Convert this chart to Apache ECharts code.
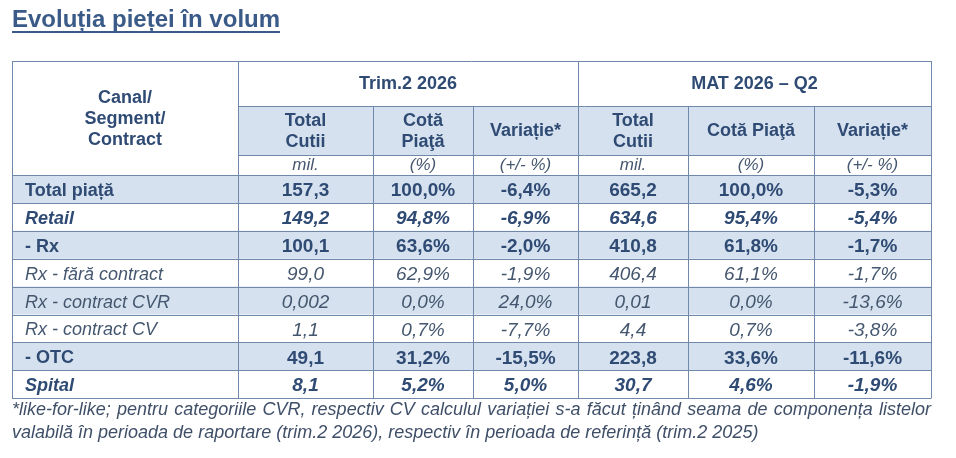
<!DOCTYPE html>
<html>
<head>
<meta charset="utf-8">
<script src="https://cdn.jsdelivr.net/npm/echarts@6/dist/echarts.min.js"></script>
<style>
html, body { margin: 0; padding: 0; background: #fff; }
#chart { width: 956px; height: 458px; }
</style>
</head>
<body>
<div id="chart"></div>
<script>
// date tabel
var title = 'Evoluția pieței în volum';
var periods = ['Trim.2 2026', 'MAT 2026 – Q2'];
var firstHeader = 'Canal/\nSegment/\nContract';
var colHeaders = ['Total\nCutii', 'Cotă\nPiaţă', 'Variație*', 'Total\nCutii', 'Cotă Piaţă', 'Variație*'];
var units = ['mil.', '(%)', '(+/- %)', 'mil.', '(%)', '(+/- %)'];
var rowLabels = ['Total piață', 'Retail', '- Rx', 'Rx - fără contract', 'Rx - contract CVR', 'Rx - contract CV', '- OTC', 'Spital'];
var trimTotal = [157.3, 149.2, 100.1, 99.0, 0.002, 1.1, 49.1, 8.1];
var trimShare = [100.0, 94.8, 63.6, 62.9, 0.0, 0.7, 31.2, 5.2];
var trimVar = [-6.4, -6.9, -2.0, -1.9, 24.0, -7.7, -15.5, 5.0];
var matTotal = [665.2, 634.6, 410.8, 406.4, 0.01, 4.4, 223.8, 30.7];
var matShare = [100.0, 95.4, 61.8, 61.1, 0.0, 0.7, 33.6, 4.6];
var matVar = [-5.3, -5.4, -1.7, -1.7, -13.6, -3.8, -11.6, -1.9];
var footnote = [
    '*like-for-like; pentru categoriile CVR, respectiv CV calculul variației s-a făcut ținând seama de componența listelor',
    'valabilă în perioada de raportare (trim.2 2026), respectiv în perioada de referință (trim.2 2025)'
];

// stil randuri
var rowBold = [true, true, true, false, false, false, true, true];
var rowItalic = [false, true, false, true, true, true, false, true];

// layout
var colX = [12, 238, 373, 473, 578, 688, 814, 931];
var topY = 61, periodY = 106, headY = 155, unitY = 175, rowH = 27.9;
var textDark = '#2f4b74', textLight = '#45576f', shade = '#d5e1ee', border = '#7089ab';
var FAM = '"Liberation Sans", Arial, sans-serif';

function fmtNum(v) {
    var s = Math.abs(v) < 0.1 && v !== 0 ? String(v) : v.toFixed(1);
    return s.replace('.', ',');
}
function fmtPct(v) {
    return v.toFixed(1).replace('.', ',') + '%';
}
function font(size, bold, italic) {
    return (italic ? 'italic ' : '') + (bold ? 'bold ' : '') + size + 'px ' + FAM;
}
function txt(text, x, y, f, color, align, lh) {
    return {
        type: 'text', z: 10,
        style: {
            text: text, x: x, y: y, font: f, fill: color,
            align: align || 'center', verticalAlign: 'middle',
            textAlign: align || 'center', textVerticalAlign: 'middle',
            lineHeight: lh || 21
        }
    };
}
function line(x1, y1, x2, y2) {
    return {
        type: 'line', z: 5,
        shape: { x1: x1, y1: y1, x2: x2, y2: y2 },
        style: { stroke: border, lineWidth: 1 }
    };
}
function rect(x, y, w, h, color) {
    return { type: 'rect', z: 1, shape: { x: x, y: y, width: w, height: h }, style: { fill: color } };
}

var els = [];
var right = colX[colX.length - 1];
var bottomY = unitY + rowH * rowLabels.length;
var measure = document.createElement('canvas').getContext('2d');

// titlu
els.push(txt(title, 12, 20, font(24, true), '#3a5a88', 'left'));
measure.font = font(24, true);
els.push({ type: 'rect', z: 10, shape: { x: 12, y: 31, width: measure.measureText(title).width, height: 2 }, style: { fill: '#3a5a88' } });

// fundaluri
els.push(rect(colX[1], periodY, right - colX[1], headY - periodY, shade));
rowLabels.forEach(function (l, i) {
    if (i % 2 === 0) els.push(rect(colX[0], unitY + i * rowH, right - colX[0], rowH, shade));
});

// antet
els.push(txt(firstHeader, (colX[0] + colX[1]) / 2, 119, font(18, true), textDark, 'center', 21));
els.push(txt(periods[0], (colX[1] + colX[4]) / 2, 84, font(18, true), textDark));
els.push(txt(periods[1], (colX[4] + colX[7]) / 2, 84, font(18, true), textDark));
colHeaders.forEach(function (h, j) {
    var cx = (colX[j + 1] + colX[j + 2]) / 2;
    els.push(txt(h, cx, (periodY + headY) / 2 + 1, font(18, true), textDark, 'center', 21));
    els.push(txt(units[j], cx, (headY + unitY) / 2, font(17, false, true), textLight));
});

// date
var cols = [trimTotal, trimShare, trimVar, matTotal, matShare, matVar];
rowLabels.forEach(function (label, i) {
    var cy = unitY + i * rowH + rowH / 2 + 2;
    var c = rowBold[i] ? textDark : textLight;
    els.push(txt(label, 25, cy, font(18, rowBold[i], rowItalic[i]), c, 'left'));
    cols.forEach(function (arr, j) {
        var s = (j % 3 === 0) ? fmtNum(arr[i]) : fmtPct(arr[i]);
        els.push(txt(s, (colX[j + 1] + colX[j + 2]) / 2, cy, font(19, rowBold[i], rowItalic[i]), c));
    });
});

// linii
els.push(line(colX[0], topY + 0.5, right, topY + 0.5));
els.push(line(colX[1], periodY + 0.5, right, periodY + 0.5));
els.push(line(colX[1], headY + 0.5, right, headY + 0.5));
els.push(line(colX[0], unitY + 0.5, right, unitY + 0.5));
for (var r = 1; r <= rowLabels.length; r++) {
    var yy = Math.round(unitY + r * rowH) + 0.5;
    els.push(line(colX[0], yy, right, yy));
}
colX.forEach(function (x, k) {
    var y0 = (k === 0 || k === 1 || k === 4 || k === 7) ? topY : periodY;
    els.push(line(x + 0.5, y0, x + 0.5, Math.round(bottomY) + 0.5));
});

// nota de subsol, primul rand justificat
var footFont = font(18, false, true);
var footColor = '#3f4f68';
measure.font = footFont;
var words = footnote[0].split(' ');
var wordsW = 0;
words.forEach(function (w) { wordsW += measure.measureText(w).width; });
var gap = (right - 12 - wordsW) / (words.length - 1);
var fx = 12;
words.forEach(function (w) {
    els.push(txt(w, fx, 410, footFont, footColor, 'left'));
    fx += measure.measureText(w).width + gap;
});
els.push(txt(footnote[1], 12, 433, footFont, footColor, 'left'));

var chart = echarts.init(document.getElementById('chart'));
chart.setOption({
    animation: false,
    backgroundColor: '#fff',
    graphic: { elements: els }
});
</script>
</body>
</html>
